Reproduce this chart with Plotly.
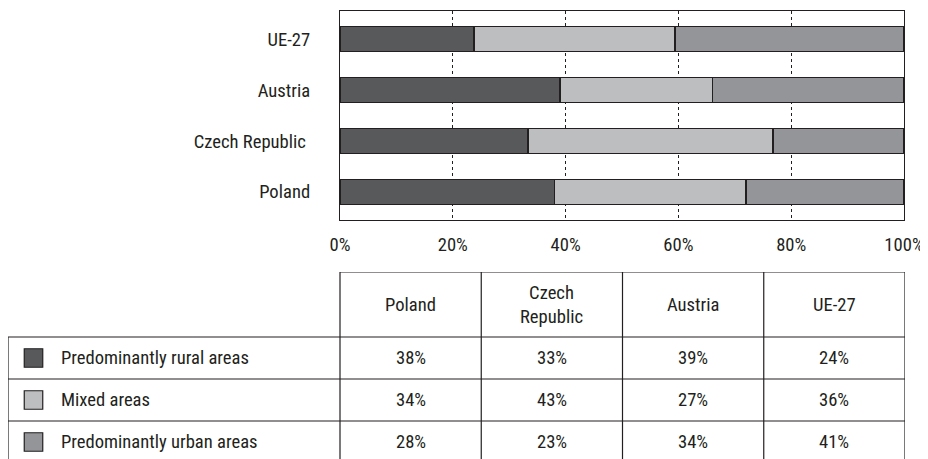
import plotly.graph_objects as go

# ---------------- data ----------------
countries = ["Poland", "Czech Republic", "Austria", "UE-27"]
bar_labels = ["Poland", "Czech Republic\u00a0", "Austria", "UE-27"]
table_headers = ["Poland", "Czech<br>Republic", "Austria", "UE-27"]
series_names = ["Predominantly rural areas", "Mixed areas", "Predominantly urban areas"]
rural = [38, 33, 39, 24]
mixed = [34, 43, 27, 36]
urban = [28, 23, 34, 41]
x_ticks = [0, 20, 40, 60, 80, 100]

# ---------------- style ----------------
OFF = 8                      # page body margin of the browser
W, H = 928 - OFF, 459 - OFF  # figure size so that it fits the window
INK = "#231f20"
COLORS = ["#58595b", "#bcbec0", "#939598"]
FONT = "Liberation Sans Narrow, Arial Narrow, Roboto Condensed, Liberation Sans, sans-serif"
FS = 18.6


def fx(px):  # window pixel -> paper fraction (x)
    return (px - OFF) / W


def fy(py):  # window pixel from top -> paper fraction (y)
    return 1 - (py - OFF) / H


series_vals = [rural, mixed, urban]

fig = go.Figure()

# stacked bars (normalised to 100 %, as in the original chart)
for name, vals, col in zip(series_names, series_vals, COLORS):
    fig.add_trace(go.Bar(
        y=bar_labels, x=vals, orientation="h", name=name,
        marker=dict(color=col, line=dict(color=INK, width=1.2)),
        width=0.5, xaxis="x", yaxis="y", showlegend=False, hoverinfo="skip",
    ))

# ---------------- table geometry (pixel layout -> table axis units) ----------------
T_LEFT, T_RIGHT = 8, 905
HEAD_TOP, HEAD_BOT = 272, 337
ROW_PX = 42.0
N = len(countries)
LABEL_W = (340 - T_LEFT) / ((T_RIGHT - 340) / N)
px_per_unit = (T_RIGHT - T_LEFT) / (N + LABEL_W)
HEADER_H = (HEAD_BOT - HEAD_TOP) / ROW_PX
Y_BOTTOM = (459 - HEAD_BOT) / ROW_PX
SQ_X = -LABEL_W + 25.5 / px_per_unit

# legend squares in table
for i, (name, col) in enumerate(zip(series_names, COLORS)):
    fig.add_trace(go.Scatter(
        x=[SQ_X], y=[i + 0.5], mode="markers", xaxis="x2", yaxis="y2",
        marker=dict(symbol="square", size=18.5, color=col, line=dict(color=INK, width=1.2)),
        showlegend=False, hoverinfo="skip",
    ))

shapes = []
LW = 1.2
shapes.append(dict(type="line", xref="x2", yref="y2", x0=0, x1=N, y0=-HEADER_H, y1=-HEADER_H,
                   line=dict(color=INK, width=LW)))
for r in range(len(series_names)):
    shapes.append(dict(type="line", xref="x2", yref="y2", x0=-LABEL_W, x1=N, y0=r, y1=r,
                       line=dict(color=INK, width=LW)))
for c in range(N + 1):
    shapes.append(dict(type="line", xref="x2", yref="y2", x0=c, x1=c, y0=-HEADER_H, y1=Y_BOTTOM + 1,
                       line=dict(color=INK, width=LW)))
shapes.append(dict(type="line", xref="x2", yref="y2", x0=-LABEL_W, x1=-LABEL_W, y0=0, y1=Y_BOTTOM + 1,
                   line=dict(color=INK, width=LW)))

annotations = []
for j, h in enumerate(table_headers):
    annotations.append(dict(xref="x2", yref="y2", x=j + 0.5, y=-HEADER_H / 2, text=h,
                            showarrow=False, font=dict(family=FONT, size=FS, color=INK),
                            xanchor="center", yanchor="middle"))
for i, (name, vals) in enumerate(zip(series_names, series_vals)):
    annotations.append(dict(xref="x2", yref="y2", x=-LABEL_W, xshift=51, y=i + 0.5, text=name,
                            showarrow=False, font=dict(family=FONT, size=FS, color=INK),
                            xanchor="left", yanchor="middle"))
    for j, v in enumerate(vals):
        annotations.append(dict(xref="x2", yref="y2", x=j + 0.5, y=i + 0.5, text=f"{v}%",
                                showarrow=False, font=dict(family=FONT, size=FS, color=INK),
                                xanchor="center", yanchor="middle"))

fig.update_layout(
    width=W, height=H,
    margin=dict(l=0, r=0, t=0, b=0, pad=0, autoexpand=False),
    paper_bgcolor="white", plot_bgcolor="white",
    barmode="stack", barnorm="percent", bargap=0.5,
    font=dict(family=FONT, size=FS, color=INK),
    xaxis=dict(domain=[fx(340), fx(904)], range=[0, 100], tickvals=x_ticks,
               ticktext=[f"{t}%" for t in x_ticks], showgrid=True, gridcolor=INK, gridwidth=1,
               griddash="dot", zeroline=False, showline=True, mirror=True, linecolor=INK,
               linewidth=1.3, ticks="", ticklabelstandoff=8, anchor="y", automargin=False,
               tickfont=dict(family=FONT, size=FS, color=INK)),
    yaxis=dict(domain=[fy(220), fy(11)], range=[-0.55, 3.55], type="category",
               showgrid=False, zeroline=False, showline=True, mirror=True, linecolor=INK,
               linewidth=1.3, ticks="", ticklabelstandoff=25, anchor="x", automargin=False,
               tickfont=dict(family=FONT, size=FS, color=INK)),
    xaxis2=dict(domain=[fx(T_LEFT), fx(T_RIGHT)], range=[-LABEL_W, N], visible=False,
                anchor="y2", fixedrange=True, automargin=False),
    yaxis2=dict(domain=[0, fy(HEAD_TOP)], range=[Y_BOTTOM, -HEADER_H], visible=False,
                anchor="x2", fixedrange=True, automargin=False),
    shapes=shapes, annotations=annotations,
)

fig.write_html("out.html")
